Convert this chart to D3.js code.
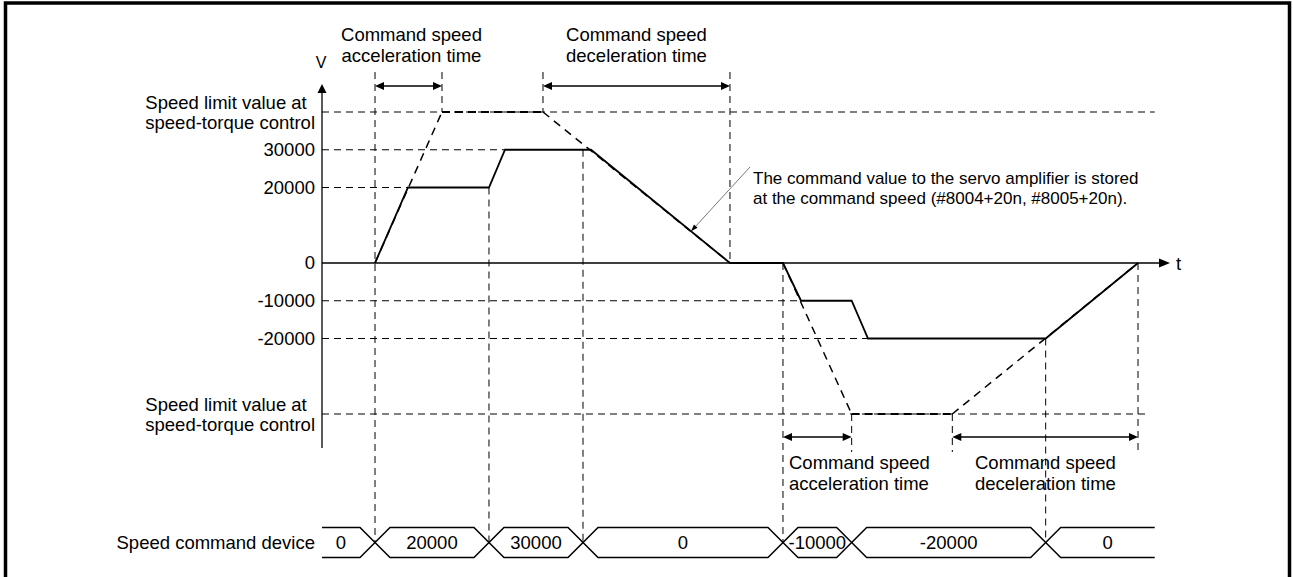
<!DOCTYPE html>
<html>
<head>
<meta charset="utf-8">
<script src="https://cdn.jsdelivr.net/npm/d3@7"></script>
<style>
  html, body { margin: 0; padding: 0; background: #fff; }
  svg { display: block; font-family: Arial, "Liberation Sans", sans-serif; }
</style>
</head>
<body>
<svg id="chart" width="1293" height="577"></svg>
<script>
// speed axis
const speedTicks = [30000, 20000, 0, -10000, -20000];
const speedLimit = 40000;
const limitLabel = ["Speed limit value at", "speed-torque control"];

// solid command speed profile (t in chart time units 0..100)
const profileT = [6.25, 10.14, 19.69, 21.58, 31.72, 48.11, 54.36, 56.49, 62.46, 64.39, 85.34, 96.23];
const profileV = [0, 20000, 20000, 30000, 30000, 0, 0, -10000, -10000, -20000, -20000, 0];

// dashed profiles at the speed limit
const limitUpT = [6.25, 14.15, 26.06, 48.11];
const limitUpV = [0, 40000, 40000, 0];
const limitDownT = [54.36, 62.46, 74.33, 96.23];
const limitDownV = [0, -40000, -40000, 0];

// horizontal guides: speed and where they stop
const guideV = [40000, 30000, 20000, -10000, -20000, -40000];
const guideEndT = [98.2, 21.58, 10.14, 56.49, 64.39, 97.05];

// vertical guides: time, upper end (null = label row), lower end
const vGuideT = [6.25, 14.15, 19.69, 26.06, 30.78, 48.11, 54.36, 62.46, 74.33, 85.34, 96.23];
const vGuideFrom = [null, null, 20000, null, 30000, null, 0, -40000, -40000, -20000, 0];
const vGuideTo = ["bus", 40000, "bus", 40000, "bus", 0, "bus", "arrow", "arrow", "bus", "arrow"];

// speed command device
const busT = [6.25, 19.69, 30.78, 54.36, 62.46, 85.34];
const busLabels = ["0", "20000", "30000", "0", "-10000", "-20000", "0"];
const busEndT = 98.2;

// dimension arrows
const topSpans = [[6.25, 14.15], [26.06, 48.11]];
const lowSpans = [[54.36, 62.46], [74.33, 96.23]];
const accelText = ["Command speed", "acceleration time"];
const decelText = ["Command speed", "deceleration time"];
const noteText = ["The command value to the servo amplifier is stored",
                  "at the command speed (#8004+20n, #8005+20n)."];

const svg = d3.select("#chart");
const FS = 18.5;

const x = d3.scaleLinear().domain([0, 100]).range([322, 1170]);
const y = d3.scaleLinear().domain([-40000, 40000]).range([414, 112]);

const topRowY = 72, arrowRowY = 452, topArrowY = 86, lowArrowY = 437;
const busY = 542.5, busHalf = 15, busSlope = 15;

// frame
svg.append("rect")
  .attr("x", 5.5).attr("y", 3).attr("width", 1284).attr("height", 600)
  .attr("fill", "none").attr("stroke", "#000").attr("stroke-width", 3.5);

function lines(g, arr, px, py, anchor, lh, fs) {
  const t = g.append("text").attr("font-size", fs || FS).attr("text-anchor", anchor).attr("fill", "#000");
  arr.forEach((s, i) => t.append("tspan").attr("x", px).attr("y", py + i * lh).text(s));
  return t;
}

function arrowHead(g, tipX, tipY, dx, dy, len, half) {
  const n = Math.hypot(dx, dy), ux = dx / n, uy = dy / n;
  const bx = tipX - ux * len, by = tipY - uy * len;
  g.append("path")
    .attr("d", `M${tipX},${tipY}L${bx - uy * half},${by + ux * half}L${bx + uy * half},${by - ux * half}Z`)
    .attr("fill", "#000");
}

const grid = svg.append("g").attr("stroke", "#000").attr("stroke-width", 1)
  .attr("stroke-dasharray", "7,5").attr("fill", "none");

// horizontal guides
guideV.forEach((v, i) => {
  grid.append("line")
    .attr("x1", x(0)).attr("x2", x(guideEndT[i]))
    .attr("y1", y(v)).attr("y2", y(v));
});

// vertical guides
vGuideT.forEach((t, i) => {
  const y1 = vGuideFrom[i] === null ? topRowY : y(vGuideFrom[i]);
  const to = vGuideTo[i];
  const y2 = to === "bus" ? busY : to === "arrow" ? arrowRowY : y(to);
  grid.append("line")
    .attr("x1", x(t)).attr("x2", x(t))
    .attr("y1", y1).attr("y2", y2);
});

// dashed limit profiles
const line = d3.line().x(d => x(d[0])).y(d => y(d[1]));
[[limitUpT, limitUpV], [limitDownT, limitDownV]].forEach(([ts, vs]) => {
  const pts = ts.map((t, i) => [t, vs[i]]);
  svg.append("path").attr("d", line(pts.slice(0, 2)))
    .attr("fill", "none").attr("stroke", "#000").attr("stroke-width", 1.5).attr("stroke-dasharray", "8,6");
  svg.append("path").attr("d", line(pts.slice(1, 3)))
    .attr("fill", "none").attr("stroke", "#000").attr("stroke-width", 2.2).attr("stroke-dasharray", "8,5");
  svg.append("path").attr("d", line(pts.slice(2, 4)))
    .attr("fill", "none").attr("stroke", "#000").attr("stroke-width", 1.5).attr("stroke-dasharray", "8,6");
});

// axes
const axes = svg.append("g");
axes.append("line").attr("x1", x(0)).attr("x2", x(0)).attr("y1", 448).attr("y2", 90)
  .attr("stroke", "#000").attr("stroke-width", 1.3);
arrowHead(axes, x(0), 84, 0, -1, 9, 4.5);
axes.append("line").attr("x1", x(0)).attr("x2", x(99)).attr("y1", y(0)).attr("y2", y(0))
  .attr("stroke", "#000").attr("stroke-width", 1.3);
arrowHead(axes, x(100), y(0), 1, 0, 11, 4.5);
axes.append("text").attr("x", x(0) - 1).attr("y", 68).attr("text-anchor", "middle")
  .attr("font-size", 16).text("V");
axes.append("text").attr("x", x(100) + 6).attr("y", y(0) + 7)
  .attr("font-size", FS).text("t");

const yAxis = svg.append("g")
  .attr("transform", `translate(${x(0)},0)`)
  .call(d3.axisLeft(y).tickValues(speedTicks).tickSize(0).tickPadding(7).tickFormat(d => String(d)));
yAxis.select(".domain").remove();
yAxis.selectAll("text").attr("font-size", FS).attr("fill", "#000");
yAxis.attr("font-family", null).attr("font-size", null);

// speed limit labels (two lines, left aligned)
[speedLimit, -speedLimit].forEach(v => {
  const t = lines(svg, limitLabel, 0, y(v) - 3.5, "start", 20);
  const w = t.node().getBBox().width;
  t.selectAll("tspan").attr("x", 315 - w);
});

// solid profile
svg.append("path")
  .attr("d", line(profileT.map((t, i) => [t, profileV[i]])))
  .attr("fill", "none").attr("stroke", "#000").attr("stroke-width", 1.8).attr("stroke-linejoin", "miter");

// dimension arrows
const dims = svg.append("g");
[[topSpans, topArrowY], [lowSpans, lowArrowY]].forEach(([spans, ay]) => {
  spans.forEach(([a, b]) => {
    dims.append("line").attr("x1", x(a) + 4).attr("x2", x(b) - 4).attr("y1", ay).attr("y2", ay)
      .attr("stroke", "#000").attr("stroke-width", 1.3);
    arrowHead(dims, x(a), ay, -1, 0, 9, 4);
    arrowHead(dims, x(b), ay, 1, 0, 9, 4);
  });
});
lines(svg, accelText, (x(topSpans[0][0]) + x(topSpans[0][1])) / 2 + 3, 41, "middle", 21);
lines(svg, decelText, (x(topSpans[1][0]) + x(topSpans[1][1])) / 2, 41, "middle", 21);
lines(svg, accelText, 789, 469, "start", 21);
lines(svg, decelText, 975, 469, "start", 21);

// note with leader
const f = 0.72;
const tipT = profileT[4] + f * (profileT[5] - profileT[4]);
const tipV = profileV[4] + f * (profileV[5] - profileV[4]);
const tipX = x(tipT), tipY = y(tipV);
const noteX = 750, noteY = 167;
svg.append("line").attr("x1", noteX).attr("y1", noteY).attr("x2", tipX).attr("y2", tipY)
  .attr("stroke", "#777").attr("stroke-width", 1);
arrowHead(svg, tipX, tipY, tipX - noteX, tipY - noteY, 7, 2.5);
lines(svg, noteText, 753, 183.5, "start", 20.5, 17);

// speed command device bus
const bus = svg.append("g");
const bounds = [0, ...busT, busEndT];
const busTop = busY - busHalf, busBot = busY + busHalf;
busLabels.forEach((lab, i) => {
  const xs = x(bounds[i]), xe = x(bounds[i + 1]);
  const first = i === 0, last = i === busLabels.length - 1;
  const l = first ? xs : xs + busSlope, r = last ? xe : xe - busSlope;
  let d = first ? `M${xs},${busTop}` : `M${xs},${busY}L${l},${busTop}`;
  d += `L${r},${busTop}`;
  d += last ? `M${xe},${busBot}` : `L${xe},${busY}L${r},${busBot}`;
  d += `L${l},${busBot}`;
  if (!first) d += `L${xs},${busY}`;
  bus.append("path").attr("d", d).attr("fill", "none").attr("stroke", "#000").attr("stroke-width", 1.5);
  bus.append("text").attr("x", (l + r) / 2).attr("y", busY + 6.5).attr("text-anchor", "middle")
    .attr("font-size", FS).text(lab);
});
svg.append("text").attr("x", 315).attr("y", busY + 6.5).attr("text-anchor", "end")
  .attr("font-size", FS).text("Speed command device");
</script>
</body>
</html>
